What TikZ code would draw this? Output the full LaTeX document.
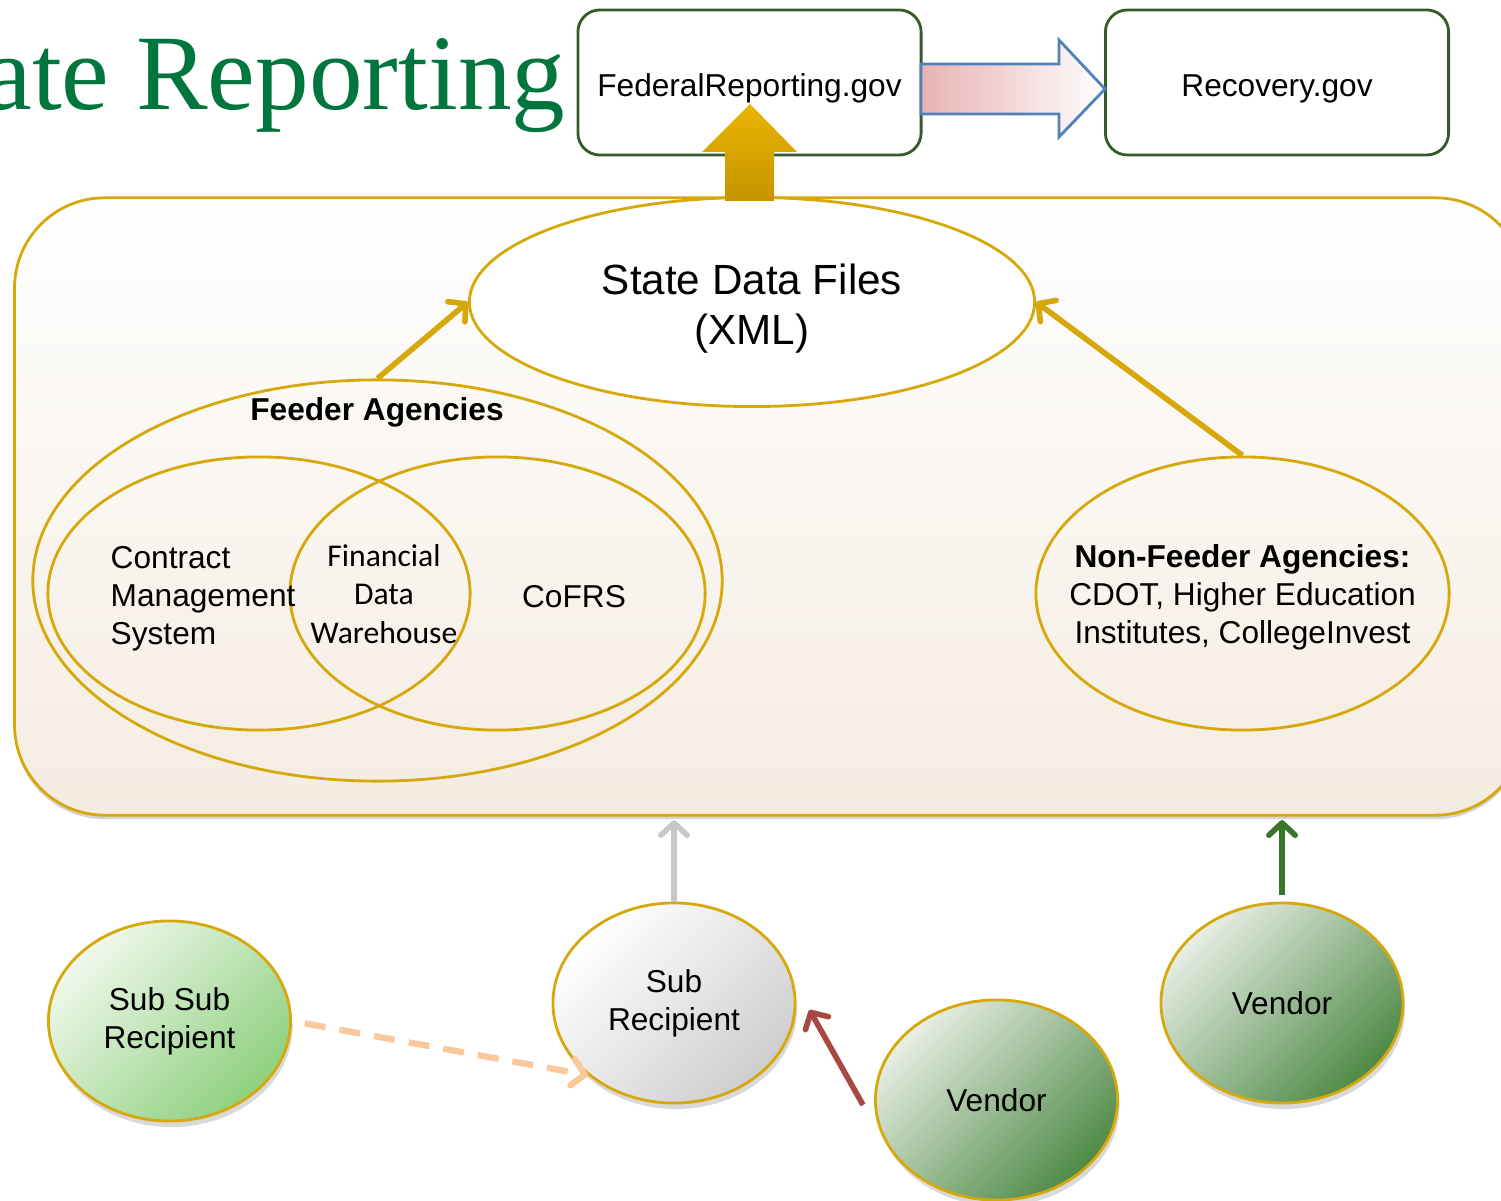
\documentclass[tikz,border=0pt]{standalone}
\usepackage{fontspec}
\setmainfont{Liberation Sans}
\newfontfamily\carlito{Carlito}
\newfontfamily\titleserif{Liberation Serif}
\usetikzlibrary{arrows.meta,shapes.geometric,shadows}
\definecolor{gold}{RGB}{214,168,12}
\definecolor{titlegreen}{RGB}{0,118,62}
\definecolor{boxgreen}{RGB}{52,92,40}
\definecolor{arrblue}{RGB}{79,129,189}
\definecolor{pinkl}{RGB}{232,178,180}
\definecolor{arrtop}{RGB}{234,180,0}
\definecolor{arrbot}{RGB}{198,148,0}
\definecolor{regionbot}{RGB}{244,236,225}
\definecolor{graya}{RGB}{200,200,200}
\definecolor{greena}{RGB}{56,118,44}
\definecolor{reda}{RGB}{168,72,66}
\definecolor{orangea}{RGB}{250,200,155}
\definecolor{lgl}{RGB}{240,248,236}
\definecolor{lgd}{RGB}{142,208,126}
\definecolor{gyd}{RGB}{206,206,206}
\definecolor{dgl}{RGB}{232,238,228}
\definecolor{dgd}{RGB}{78,138,70}
\tikzset{ov/.append style={draw=gold, ellipse, line width=0.8pt, inner sep=0pt, align=center}}
\tikzset{bx/.append style={draw=boxgreen, rounded corners=0.22cm, line width=0.8pt, minimum width=3.43cm, minimum height=1.45cm, text height=1.0em, text depth=0.21em}}
\tikzset{region/.append style={draw=gold, line width=0.8pt, rounded corners=0.9cm, minimum width=15.1cm, minimum height=6.17cm, top color=white, bottom color=regionbot, drop shadow={opacity=0.35, shadow xshift=0cm, shadow yshift=-0.04cm}}}
\tikzset{bub/.append style={ov, minimum width=2.42cm, minimum height=2cm, drop shadow={opacity=0.3, shadow xshift=0.02cm, shadow yshift=-0.06cm}}}
\tikzset{lg/.append style={top color=lgl, bottom color=lgd, shading angle=45}}
\tikzset{gy/.append style={top color=white, bottom color=gyd, shading angle=45}}
\tikzset{dg/.append style={top color=dgl, bottom color=dgd, shading angle=45}}
\tikzset{tip/.style={-{Straight Barb[length=3.5pt,width=7.5pt,round]}, line width=1.6pt}}
\tikzset{ga/.append style={draw=gold, tip}}

\begin{document}
\begin{tikzpicture}[x=0.01cm,y=-0.01cm,font=\fontsize{9}{10.8}\selectfont]
                \useasboundingbox (0,0) rectangle (1501,1201);
                % title and federal sites
                \node[anchor=base east, inner sep=0pt, text=titlegreen, font=\titleserif\fontsize{30.5}{36}\selectfont] (title) at (566,110) {ate Reporting};
                \node[bx] (fed) at (749.5,82.5) {FederalReporting.gov};
                \node[bx] (rec) at (1277,82.5) {Recovery.gov};
                % state level
                \node[region] (state) at (770,506.5) {};
                \node[ov, fill=white, minimum width=5.65cm, minimum height=2.09cm] (sdf) at (752,302) {};
                \node[align=center, font=\fontsize{12}{14.2}\selectfont] (sdflbl) at ([yshift=-0.07cm]sdf.center) {State Data Files\\(XML)};
                \node[ov, minimum width=6.89cm, minimum height=4.01cm] (feed) at (377.5,580.5) {};
                \node[ov, minimum width=4.22cm, minimum height=2.73cm] (cms) at (259,593.5) {};
                \node[ov, minimum width=4.15cm, minimum height=2.73cm] (cofrs) at (497.5,593.5) {};
                \node[font=\bfseries\fontsize{9}{10.8}\selectfont] (feedlbl) at (377,412) {Feeder Agencies};
                \node[align=left, anchor=west, inner sep=0pt] (cmslbl) at (110,599) {Contract\\Management\\System};
                \node[align=center, font=\carlito\fontsize{9}{11}\selectfont] (fdw) at (384,594) {Financial\\Data\\Warehouse};
                \node (cofrslbl) at (574,597) {CoFRS};
                \node[ov, minimum width=4.13cm, minimum height=2.73cm] (nonfeed) at (1242.5,593.5) {};
                \node[align=center] (nonfeedlbl) at ([yshift=-0.04cm]nonfeed.center) {\textbf{Non-Feeder Agencies:}\\CDOT, Higher Education\\Institutes, CollegeInvest};
                \draw[ga] (feed.north) -- (sdf.west);
                \draw[ga] (nonfeed.north) -- (sdf.east);
                % block arrows
                \shade[top color=arrtop, bottom color=arrbot] (750,104) -- (797,152) -- (774,152) -- (774,201) -- (725,201) -- (725,152) -- (702,152) -- cycle;
                \draw[arrblue, line width=0.8pt, left color=pinkl, right color=white] (921,64) -- (1059,64) -- (1059,40) -- (1105,89) -- (1059,137) -- (1059,114) -- (921,114) -- cycle;
                % recipients and vendors
                \node[bub,lg] (subsub) at (169.5,1021) {Sub Sub\\Recipient};
                \node[bub,gy] (sub) at (674,1003) {Sub\\Recipient};
                \node[bub,dg] (vendA) at (996.5,1100) {Vendor};
                \node[bub,dg] (vendB) at (1282,1003) {Vendor};
                \draw[graya, tip, shorten >=1pt] (sub.north) -- (sub.north |- state.south);
                \draw[greena, tip, shorten <=2pt, shorten >=1pt] (vendB.north) -- (vendB.north |- state.south);
                \draw[reda, tip] ([xshift=-0.11cm,yshift=-0.05cm]vendA.west) -- ([xshift=0.13cm,yshift=-0.07cm]sub.east);
                \draw[orangea, tip, line width=1.8pt, dash pattern=on 6pt off 4pt, shorten <=0.13cm] (subsub.east) -- (sub.220);
            \end{tikzpicture}
\end{document}
